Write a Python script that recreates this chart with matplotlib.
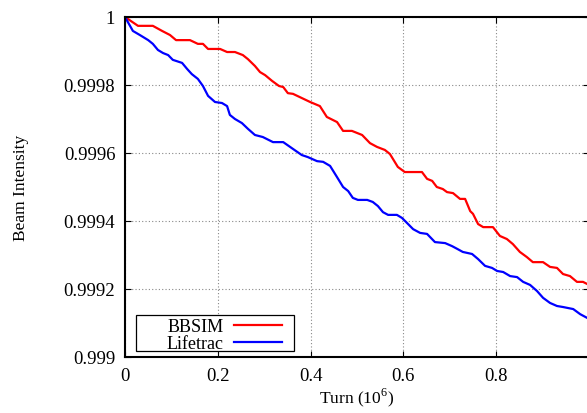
import matplotlib
matplotlib.use("Agg")
import matplotlib.pyplot as plt
from matplotlib.patches import Rectangle

plt.rcParams['font.family'] = ['Liberation Serif', 'DejaVu Serif']
plt.rcParams['mathtext.fontset'] = 'custom'
plt.rcParams['mathtext.rm'] = 'Liberation Serif'

bbsim_turn = [0, 0.028, 0.060, 0.080, 0.097, 0.110, 0.140, 0.157, 0.168, 0.179, 0.205, 0.220,
              0.237, 0.254, 0.265, 0.280, 0.291, 0.302, 0.317, 0.332, 0.341, 0.351, 0.362, 0.399,
              0.420, 0.435, 0.457, 0.470, 0.489, 0.511, 0.528, 0.543, 0.560, 0.571, 0.588, 0.603,
              0.640, 0.651, 0.662, 0.672, 0.685, 0.694, 0.707, 0.722, 0.733, 0.744, 0.750, 0.761,
              0.772, 0.793, 0.808, 0.823, 0.836, 0.851, 0.866, 0.879, 0.901, 0.916, 0.931, 0.944,
              0.959, 0.974, 0.987, 1.0]
bbsim_int = [1.0, 0.999974, 0.999974, 0.999959, 0.999947, 0.999932, 0.999932, 0.999921, 0.999921,
             0.999906, 0.999906, 0.999897, 0.999897, 0.999888, 0.999876, 0.999856, 0.999838, 0.999829,
             0.999812, 0.999797, 0.999794, 0.999776, 0.999774, 0.999750, 0.999738, 0.999706, 0.999691,
             0.999665, 0.999665, 0.999653, 0.999629, 0.999618, 0.999609, 0.999597, 0.999559, 0.999544,
             0.999544, 0.999524, 0.999518, 0.999500, 0.999494, 0.999485, 0.999482, 0.999465, 0.999465,
             0.999429, 0.999421, 0.999391, 0.999382, 0.999382, 0.999356, 0.999347, 0.999332, 0.999309,
             0.999294, 0.999279, 0.999279, 0.999265, 0.999262, 0.999244, 0.999238, 0.999221, 0.999221,
             0.999212]

lifetrac_turn = [0, 0.017, 0.032, 0.050, 0.060, 0.071, 0.082, 0.093, 0.103, 0.123, 0.134, 0.144,
                 0.157, 0.168, 0.179, 0.194, 0.209, 0.220, 0.226, 0.237, 0.252, 0.265, 0.280, 0.297,
                 0.319, 0.341, 0.362, 0.381, 0.394, 0.414, 0.427, 0.442, 0.457, 0.470, 0.481, 0.491,
                 0.502, 0.522, 0.534, 0.545, 0.556, 0.567, 0.586, 0.597, 0.621, 0.636, 0.651, 0.668,
                 0.690, 0.705, 0.716, 0.728, 0.748, 0.761, 0.776, 0.791, 0.802, 0.815, 0.830, 0.845,
                 0.858, 0.873, 0.888, 0.901, 0.916, 0.931, 0.944, 0.966, 0.981, 0.996, 1.0]
lifetrac_int = [1.0, 0.999959, 0.999947, 0.999932, 0.999921, 0.999903, 0.999894, 0.999888, 0.999874,
                0.999865, 0.999847, 0.999832, 0.999818, 0.999797, 0.999768, 0.999750, 0.999747, 0.999738,
                0.999712, 0.999700, 0.999688, 0.999671, 0.999653, 0.999647, 0.999632, 0.999632, 0.999612,
                0.999594, 0.999588, 0.999576, 0.999574, 0.999562, 0.999529, 0.999500, 0.999488, 0.999468,
                0.999462, 0.999462, 0.999456, 0.999444, 0.999426, 0.999418, 0.999418, 0.999409, 0.999376,
                0.999365, 0.999362, 0.999338, 0.999335, 0.999326, 0.999318, 0.999309, 0.999303, 0.999288,
                0.999268, 0.999262, 0.999253, 0.999250, 0.999238, 0.999235, 0.999221, 0.999212, 0.999194,
                0.999174, 0.999159, 0.999150, 0.999147, 0.999141, 0.999126, 0.999115, 0.999112]

xticks = [0, 0.2, 0.4, 0.6, 0.8, 1.0]
xticklabels = ['0', '0.2', '0.4', '0.6', '0.8', '']
yticks = [0.999, 0.9992, 0.9994, 0.9996, 0.9998, 1.0]
yticklabels = ['0.999', '0.9992', '0.9994', '0.9996', '0.9998', '1']

W, H = 587, 414
fig = plt.figure(figsize=(W / 100, H / 100), dpi=100)
ax = fig.add_axes([125 / W, (H - 358) / H, 464 / W, 340 / H])

ax.plot(bbsim_turn, bbsim_int, color='#ff0000', lw=1.6, label='BBSIM')
ax.plot(lifetrac_turn, lifetrac_int, color='#0000ff', lw=1.6, label='Lifetrac')

ax.set_xlim(0, 1.0)
ax.set_ylim(0.999, 1.0)
ax.set_xticks(xticks)
ax.set_xticklabels(xticklabels)
ax.set_yticks(yticks)
ax.set_yticklabels(yticklabels)
ax.tick_params(direction='in', length=4, width=0.8, labelsize=13.5, top=True, right=True, pad=7)
ax.grid(True, color='#888888', linestyle=(0, (1, 2)), linewidth=0.8)
for s in ax.spines.values():
    s.set_linewidth(1.5)

ax.set_xlabel(r'Turn (10$^{6}$)', fontsize=12.5, labelpad=1)
ax.set_ylabel('Beam Intensity', fontsize=12.5, labelpad=25)

leg = ax.legend(loc='center right', bbox_to_anchor=(157 / 464, 22 / 340), borderaxespad=0,
                markerfirst=False, frameon=False,
                fontsize=13, handlelength=2.65, handletextpad=0.6, labelspacing=0.0,
                borderpad=0.0)
leg.set_zorder(6)
ax.add_patch(Rectangle((11 / 464, 6 / 340), 158 / 464, 36 / 340, transform=ax.transAxes,
                       facecolor='white', edgecolor='black', linewidth=0.9, zorder=5))

fig.savefig('out.png', dpi=100)
